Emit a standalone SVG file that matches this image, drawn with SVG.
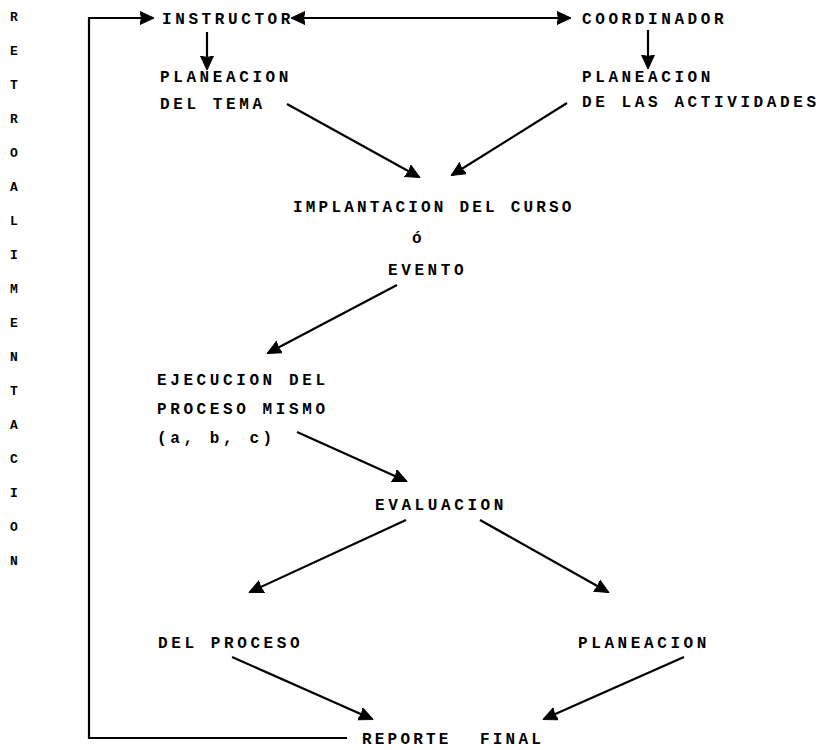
<svg xmlns="http://www.w3.org/2000/svg" width="826" height="750" viewBox="0 0 826 750">
<defs>
<marker id="ah" markerUnits="userSpaceOnUse" markerWidth="16" markerHeight="16" refX="13" refY="7" orient="auto-start-reverse">
<path d="M0,0.5 L14,7 L0,13.5 L1.5,7 z" fill="#000" stroke="#000" stroke-width="1" stroke-linejoin="round"/>
</marker>
<style>
text{font-family:"Liberation Mono","DejaVu Sans Mono",monospace;font-weight:bold;font-size:16px;fill:#000;letter-spacing:3.6px}
.n{letter-spacing:3.2px}
.side{font-size:13px;letter-spacing:0}
.c line,.c polyline{stroke:#000;stroke-width:2.2;fill:none}
</style>
</defs>
<rect width="826" height="750" fill="#fff"/>
<g id="retroalimentacion">
<text class="side" x="10" y="21">R</text>
<text class="side" x="10" y="55">E</text>
<text class="side" x="10" y="89">T</text>
<text class="side" x="10" y="123">R</text>
<text class="side" x="10" y="157">O</text>
<text class="side" x="10" y="191">A</text>
<text class="side" x="10" y="225">L</text>
<text class="side" x="10" y="259">I</text>
<text class="side" x="10" y="293">M</text>
<text class="side" x="10" y="327">E</text>
<text class="side" x="10" y="361">N</text>
<text class="side" x="10" y="395">T</text>
<text class="side" x="10" y="429">A</text>
<text class="side" x="10" y="463">C</text>
<text class="side" x="10" y="497">I</text>
<text class="side" x="10" y="531">O</text>
<text class="side" x="10" y="565">N</text>
</g>
<g id="instructor"><text x="162" y="24">INSTRUCTOR</text></g>
<g id="coordinador"><text x="582" y="24">COORDINADOR</text></g>
<g id="planeacion-tema"><text x="160" y="82">PLANEACION</text><text x="160" y="109">DEL TEMA</text></g>
<g id="planeacion-actividades"><text x="582" y="82">PLANEACION</text><text x="582" y="107">DE LAS ACTIVIDADES</text></g>
<g id="implantacion"><text class="n" x="293" y="212">IMPLANTACION DEL CURSO</text><text x="412" y="243">ó</text><text x="388" y="275">EVENTO</text></g>
<g id="ejecucion"><text x="157" y="385">EJECUCION DEL</text><text x="157" y="414">PROCESO MISMO</text><text x="157" y="443">(a, b, c)</text></g>
<g id="evaluacion"><text x="375" y="510">EVALUACION</text></g>
<g id="del-proceso"><text x="158" y="648">DEL PROCESO</text></g>
<g id="planeacion"><text x="578" y="648">PLANEACION</text></g>
<g id="reporte-final"><text class="n" x="362" y="744">REPORTE<tspan x="480">FINAL</tspan></text></g>
<g id="connectors" class="c">
<polyline points="347,738 89,738 89,18 153,18" marker-end="url(#ah)"/>
<line x1="292" y1="18" x2="570" y2="18" marker-start="url(#ah)" marker-end="url(#ah)"/>
<line x1="207" y1="32" x2="207" y2="69" marker-end="url(#ah)"/>
<line x1="648" y1="30" x2="648" y2="68" marker-end="url(#ah)"/>
<line x1="287" y1="104" x2="419" y2="177" marker-end="url(#ah)"/>
<line x1="567" y1="103" x2="452" y2="175" marker-end="url(#ah)"/>
<line x1="397" y1="285" x2="268" y2="353" marker-end="url(#ah)"/>
<line x1="297" y1="432" x2="406" y2="481" marker-end="url(#ah)"/>
<line x1="406" y1="520" x2="250" y2="592" marker-end="url(#ah)"/>
<line x1="480" y1="520" x2="608" y2="592" marker-end="url(#ah)"/>
<line x1="232" y1="657" x2="372" y2="719" marker-end="url(#ah)"/>
<line x1="684" y1="657" x2="544" y2="719" marker-end="url(#ah)"/>
</g>
</svg>
